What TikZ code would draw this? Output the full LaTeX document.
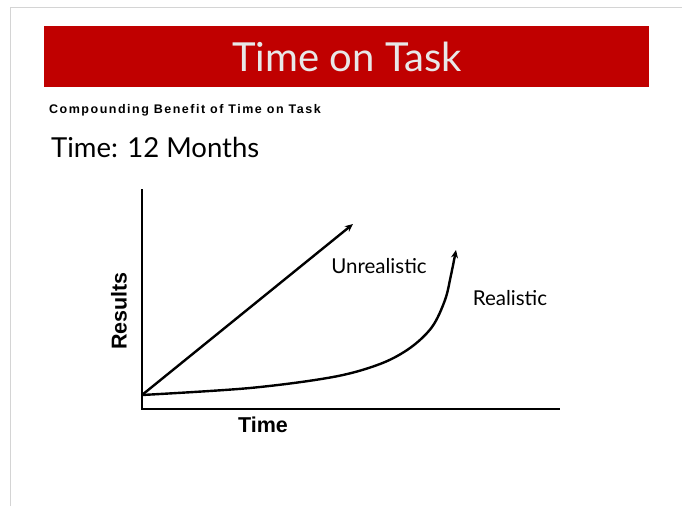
\documentclass[tikz,border=0pt]{standalone}
\usepackage{fontspec}
\setmainfont{Lato}
\newfontfamily\arialfont{Liberation Sans}
\newfontfamily\arialspaced[LetterSpace=12]{Liberation Sans}
\usetikzlibrary{arrows.meta}
\definecolor{bannerred}{HTML}{C00000}
\definecolor{titlegray}{HTML}{E8E8E8}
\definecolor{framegray}{HTML}{D4D4D4}
\begin{document}
\begin{tikzpicture}[x=1pt,y=1pt,
  axis/.style={line width=2.4pt, line cap=rect},
  trend/.style={line width=2.4pt, -{Stealth[length=8pt,width=7pt]}},
  lbl/.style={font=\fontsize{20.5}{20.5}\selectfont, inner sep=0pt},
  axlbl/.style={font=\arialfont\bfseries\fontsize{21.5}{21.5}\selectfont, inner sep=0pt}]
\useasboundingbox (0,0) rectangle (682,-506);
% frame
\draw[framegray, line width=1pt] (10,-506) -- (10,-7) -- (682,-7);
% banner
\fill[bannerred] (44,-26) rectangle (649,-87);
\node[titlegray, font=\fontsize{40}{40}\selectfont, inner sep=0pt] (title) at (347,-57) {Time on Task};
\node[anchor=west, inner sep=0pt, font=\arialspaced\bfseries\fontsize{12.5}{12.5}\selectfont] (sub) at (49,-110) {Compounding Benefit of Time on Task};
\node[anchor=west, inner sep=0pt, font=\fontsize{27.5}{27.5}\selectfont] (months) at (51,-147) {Time: 12 Months};
% axes
\coordinate (ytop) at (142,-190);
\coordinate (orig) at (142,-409);
\coordinate (xend) at (559,-409);
\draw[axis] (ytop) -- (orig) -- (xend);
% curves
\coordinate (start) at (142,-395);
\coordinate (uend) at (353,-224);
\coordinate (rend) at (456,-250);
\draw[trend] (start) -- (uend);
\draw[trend] plot[smooth, tension=0.55] coordinates {(start) (250,-388) (333,-377) (380,-364) (410,-348) (432,-327) (445,-300) (451,-275) (rend)};
% labels
\node[lbl] (unreal) at (379,-266) {Unrealistic};
\node[lbl] (real) at (510,-298) {Realistic};
\node[axlbl, rotate=90] (res) at (119,-311) {Results};
\node[axlbl] (time) at (263,-425) {Time};
\end{tikzpicture}
\end{document}
